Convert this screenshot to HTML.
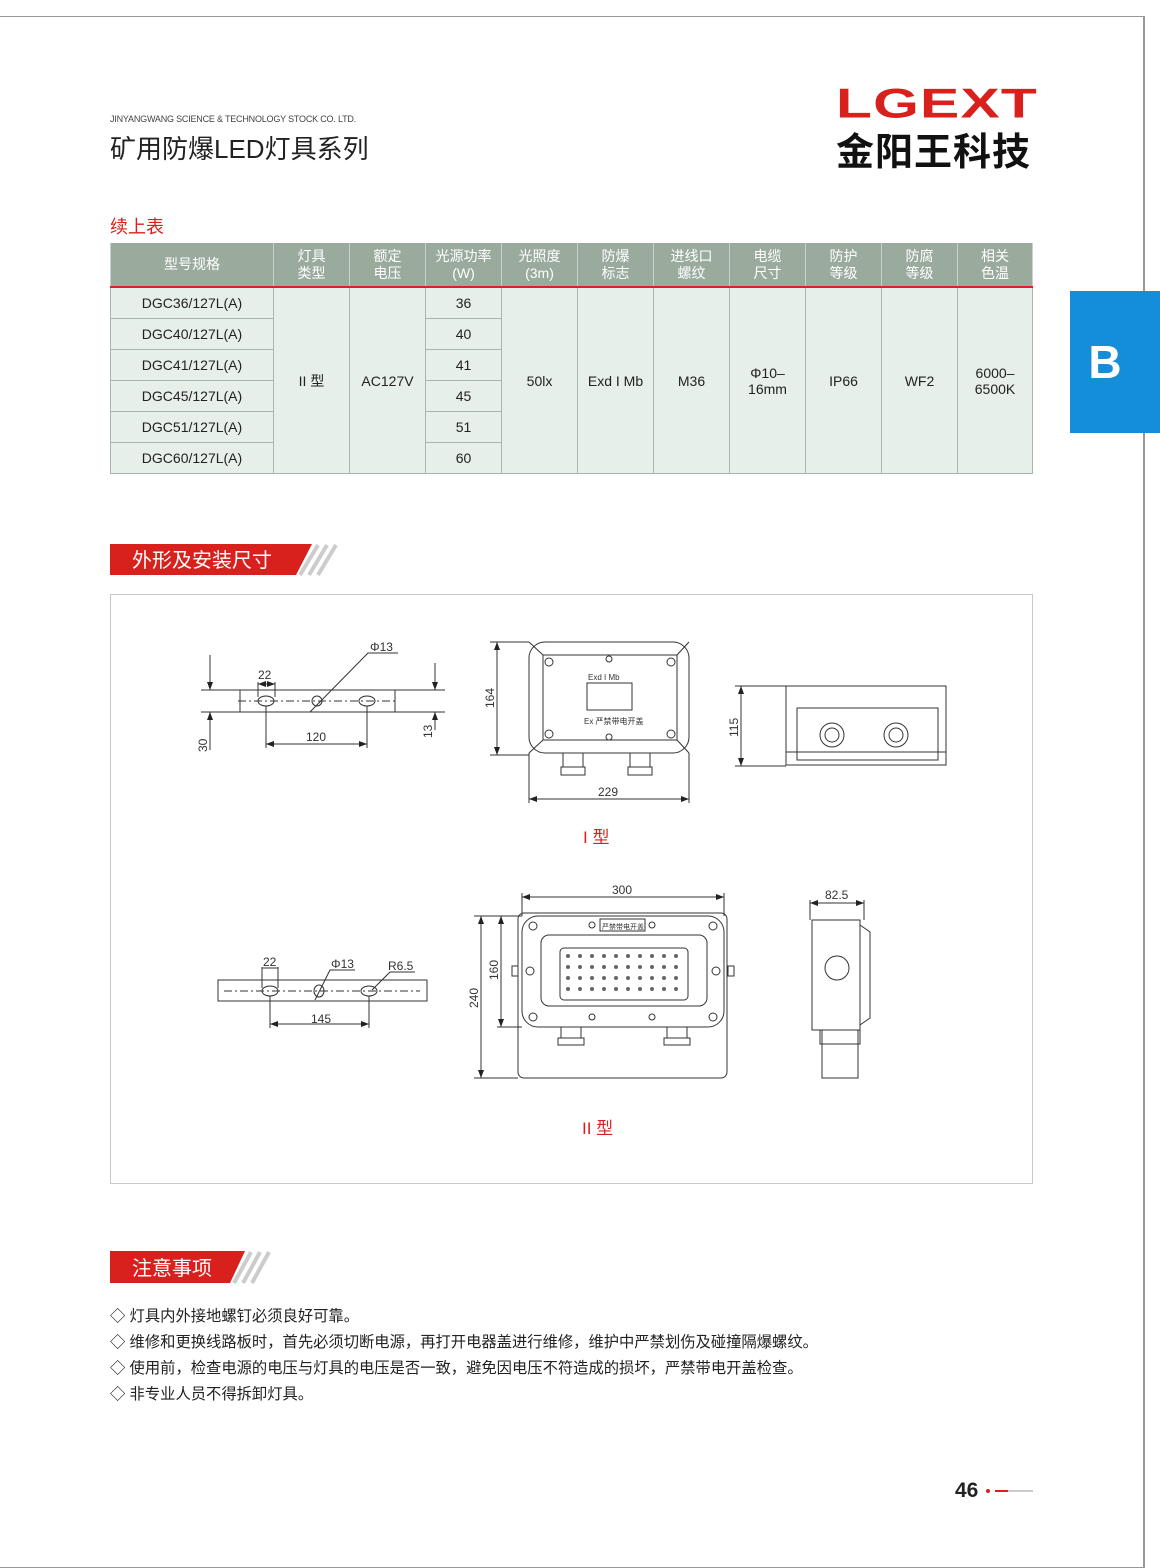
<!DOCTYPE html>
<html><head><meta charset="utf-8"><style>
body{margin:0;width:1160px;height:1568px;position:relative;background:#fff;font-family:"Liberation Sans","Noto Sans CJK SC",sans-serif;overflow:hidden}
.a{position:absolute}
table{border-collapse:collapse;position:absolute;left:110px;top:243px;table-layout:fixed}
td{border:1px solid #a9b5ae;text-align:center;color:#222;font-size:14px;padding:0;background:#e6efea}
th{background:#9aab9e;color:#fff;font-weight:normal;font-size:14px;line-height:17px;border-left:1px solid #c8d2cc;border-right:1px solid #c8d2cc;height:43px;border-bottom:2px solid #d22;padding:0}
td.m{height:30px}
.note{position:absolute;left:110px;font-size:15.3px;color:#222}
</style></head><body>
<div class="a" style="left:0;top:16px;width:1143px;height:1550px;border-top:1px solid #999;border-right:2px solid #999;border-bottom:1px solid #999"></div>
<div class="a" style="left:110px;top:114px;font-size:9px;color:#444;letter-spacing:-0.2px">JINYANGWANG SCIENCE &amp; TECHNOLOGY STOCK CO. LTD.</div>
<div class="a" style="left:110px;top:129px;font-size:26px;color:#222">矿用防爆LED灯具系列</div>
<div class="a" style="left:836px;top:80px;font-size:49px;font-weight:bold;color:#d8201c;letter-spacing:1px;transform:scale(1.2,0.85);transform-origin:top left">LGEXT</div>
<div class="a" style="left:836px;top:121px;font-size:38px;font-weight:bold;color:#111;letter-spacing:1px">金阳王科技</div>
<div class="a" style="left:110px;top:213px;font-size:18px;color:#d8201c">续上表</div>
<div class="a" style="left:1070px;top:291px;width:90px;height:142px;background:#148ed8;color:#fff;font-weight:bold;font-size:46px;text-align:center;line-height:142px;padding-right:20px;box-sizing:border-box">B</div>

<table>
<colgroup><col style="width:163px"><col style="width:76px"><col style="width:76px"><col style="width:76px"><col style="width:76px"><col style="width:76px"><col style="width:76px"><col style="width:76px"><col style="width:76px"><col style="width:76px"><col style="width:75px"></colgroup>
<tr><th>型号规格</th><th>灯具<br>类型</th><th>额定<br>电压</th><th>光源功率<br>(W)</th><th>光照度<br>(3m)</th><th>防爆<br>标志</th><th>进线口<br>螺纹</th><th>电缆<br>尺寸</th><th>防护<br>等级</th><th>防腐<br>等级</th><th>相关<br>色温</th></tr>
<tr><td class="m">DGC36/127L(A)</td><td rowspan="6">II 型</td><td rowspan="6">AC127V</td><td>36</td><td rowspan="6">50lx</td><td rowspan="6">Exd I Mb</td><td rowspan="6">M36</td><td rowspan="6">Φ10–<br>16mm</td><td rowspan="6">IP66</td><td rowspan="6">WF2</td><td rowspan="6">6000–<br>6500K</td></tr>
<tr><td class="m">DGC40/127L(A)</td><td>40</td></tr>
<tr><td class="m">DGC41/127L(A)</td><td>41</td></tr>
<tr><td class="m">DGC45/127L(A)</td><td>45</td></tr>
<tr><td class="m">DGC51/127L(A)</td><td>51</td></tr>
<tr><td class="m">DGC60/127L(A)</td><td>60</td></tr>
</table>

<svg class="a" style="left:0;top:0" width="1160" height="1568" viewBox="0 0 1160 1568">
<defs><marker id="ar" markerWidth="8" markerHeight="6" refX="8" refY="3" orient="auto-start-reverse"><path d="M0,0L8,3L0,6z" fill="#222"/></marker></defs>
<polygon points="110,544 312,544 296,575 110,575" fill="#d8201c"/>
<g stroke="#ccc" stroke-width="4"><line x1="318" y1="545" x2="300" y2="575"/><line x1="327" y1="545" x2="309" y2="575"/><line x1="336" y1="545" x2="318" y2="575"/></g>
<text x="132" y="567" font-size="20" fill="#fff" font-family="Liberation Sans,Noto Sans CJK SC,sans-serif">外形及安装尺寸</text>
<polygon points="110,1251 245,1251 230,1283 110,1283" fill="#d8201c"/>
<g stroke="#ccc" stroke-width="4"><line x1="251" y1="1252" x2="234" y2="1283"/><line x1="260" y1="1252" x2="243" y2="1283"/><line x1="269" y1="1252" x2="252" y2="1283"/></g>
<text x="132" y="1275" font-size="20" fill="#fff" font-family="Liberation Sans,Noto Sans CJK SC,sans-serif">注意事项</text>
<rect x="110.5" y="594.5" width="922" height="589" fill="none" stroke="#c8c8c8"/>

<g fill="none" stroke="#333" stroke-width="1" font-family="Liberation Sans,sans-serif" font-size="12">
<line x1="201" y1="690" x2="445" y2="690"/><line x1="201" y1="712" x2="445" y2="712"/>
<line x1="240" y1="690" x2="240" y2="712"/><line x1="395" y1="690" x2="395" y2="712"/>
<line x1="238" y1="701" x2="397" y2="701" stroke-dasharray="8,3,2,3"/>
<ellipse cx="266" cy="701" rx="8" ry="5"/><ellipse cx="317" cy="701" rx="5" ry="5"/><ellipse cx="367" cy="701" rx="8" ry="5"/>
<line x1="258" y1="682" x2="258" y2="697"/><line x1="275" y1="682" x2="275" y2="697"/>
<line x1="258" y1="684" x2="275" y2="684" marker-start="url(#ar)" marker-end="url(#ar)"/>
<line x1="266" y1="706" x2="266" y2="748"/><line x1="367" y1="706" x2="367" y2="748"/>
<line x1="266" y1="744" x2="367" y2="744" marker-start="url(#ar)" marker-end="url(#ar)"/>
<line x1="210" y1="655" x2="210" y2="690" marker-end="url(#ar)"/><line x1="210" y1="750" x2="210" y2="712" marker-end="url(#ar)"/>
<line x1="435" y1="663" x2="435" y2="690" marker-end="url(#ar)"/><line x1="435" y1="730" x2="435" y2="712" marker-end="url(#ar)"/>
<polyline points="398,653 368,653 310,712"/>
<rect x="529" y="642" width="160" height="111" rx="16"/>
<rect x="543" y="655" width="134" height="85"/>
<line x1="529" y1="642" x2="543" y2="655"/><line x1="689" y1="642" x2="677" y2="655"/><line x1="529" y1="753" x2="543" y2="740"/><line x1="689" y1="753" x2="677" y2="740"/>
<rect x="587" y="683" width="45" height="27"/>
<circle cx="549" cy="662" r="4"/><circle cx="671" cy="662" r="4"/><circle cx="549" cy="734" r="4"/><circle cx="671" cy="734" r="4"/><circle cx="609" cy="659" r="3"/><circle cx="609" cy="737" r="3"/>
<rect x="563" y="753" width="20" height="14"/><rect x="561" y="767" width="24" height="8"/>
<rect x="630" y="753" width="20" height="14"/><rect x="628" y="767" width="24" height="8"/>
<line x1="490" y1="642" x2="529" y2="642"/><line x1="490" y1="755" x2="529" y2="755"/>
<line x1="497" y1="642" x2="497" y2="755" marker-start="url(#ar)" marker-end="url(#ar)"/>
<line x1="529" y1="753" x2="529" y2="803"/><line x1="689" y1="753" x2="689" y2="803"/>
<line x1="529" y1="799" x2="689" y2="799" marker-start="url(#ar)" marker-end="url(#ar)"/>
<rect x="786" y="686" width="160" height="79"/>
<rect x="797" y="708" width="141" height="52"/>
<line x1="786" y1="752" x2="946" y2="752"/>
<circle cx="832" cy="735" r="12"/><circle cx="832" cy="735" r="7"/><circle cx="896" cy="735" r="12"/><circle cx="896" cy="735" r="7"/>
<line x1="735" y1="686" x2="786" y2="686"/><line x1="735" y1="766" x2="786" y2="766"/>
<line x1="741" y1="686" x2="741" y2="766" marker-start="url(#ar)" marker-end="url(#ar)"/>
<rect x="218" y="980" width="209" height="21"/>
<line x1="224" y1="991" x2="420" y2="991" stroke-dasharray="8,3,2,3"/>
<ellipse cx="270" cy="991" rx="8" ry="5"/><ellipse cx="319" cy="991" rx="5" ry="6"/><ellipse cx="369" cy="991" rx="8" ry="5"/>
<line x1="262" y1="967" x2="262" y2="988"/><line x1="278" y1="967" x2="278" y2="988"/><line x1="262" y1="968" x2="278" y2="968"/>
<line x1="270" y1="996" x2="270" y2="1028"/><line x1="369" y1="996" x2="369" y2="1028"/>
<line x1="270" y1="1024" x2="369" y2="1024" marker-start="url(#ar)" marker-end="url(#ar)"/>
<polyline points="355,970 330,970 315,1000"/><polyline points="415,972 390,972 372,990"/>
<rect x="518" y="913" width="209" height="165" rx="6"/>
<rect x="522" y="916" width="202" height="111" rx="16" fill="#fff"/>
<rect x="541" y="935" width="166" height="71" rx="8"/>
<rect x="560" y="948" width="128" height="52" rx="4"/>
<rect x="600" y="919" width="45" height="12"/>
<circle cx="533" cy="926" r="4"/><circle cx="713" cy="926" r="4"/><circle cx="533" cy="1017" r="4"/><circle cx="713" cy="1017" r="4"/><circle cx="530" cy="971" r="4"/><circle cx="716" cy="971" r="4"/>
<circle cx="592" cy="925" r="3"/><circle cx="652" cy="925" r="3"/><circle cx="592" cy="1017" r="3"/><circle cx="652" cy="1017" r="3"/>
<rect x="512" y="966" width="6" height="10"/><rect x="728" y="966" width="6" height="10"/>
<rect x="561" y="1027" width="20" height="11"/><rect x="558" y="1038" width="26" height="7"/>
<rect x="667" y="1027" width="20" height="11"/><rect x="664" y="1038" width="26" height="7"/>
<line x1="474" y1="916" x2="522" y2="916"/><line x1="474" y1="1078" x2="518" y2="1078"/><line x1="497" y1="1027" x2="522" y2="1027"/>
<line x1="481" y1="916" x2="481" y2="1078" marker-start="url(#ar)" marker-end="url(#ar)"/>
<line x1="501" y1="916" x2="501" y2="1027" marker-start="url(#ar)" marker-end="url(#ar)"/>
<line x1="522" y1="893" x2="522" y2="916"/><line x1="724" y1="893" x2="724" y2="916"/>
<line x1="522" y1="897" x2="724" y2="897" marker-start="url(#ar)" marker-end="url(#ar)"/>
<rect x="812" y="920" width="48" height="110"/>
<polyline points="860,925 870,932 870,1018 860,1025"/>
<circle cx="837" cy="968" r="12"/>
<rect x="822" y="1030" width="36" height="48"/>
<rect x="820" y="1030" width="40" height="14"/>
<line x1="810" y1="900" x2="810" y2="920"/><line x1="864" y1="900" x2="864" y2="920"/>
<line x1="810" y1="903" x2="864" y2="903" marker-start="url(#ar)" marker-end="url(#ar)"/>
</g>
<g fill="#333" font-family="Liberation Sans,Noto Sans CJK SC,sans-serif" font-size="12">
<text x="258" y="679">22</text><text x="370" y="651">Φ13</text><text x="306" y="741">120</text>
<text x="207" y="752" transform="rotate(-90 207 752)">30</text><text x="432" y="738" transform="rotate(-90 432 738)">13</text>
<text x="494" y="708" transform="rotate(-90 494 708)">164</text><text x="598" y="796">229</text>
<text x="738" y="737" transform="rotate(-90 738 737)">115</text>
<text x="588" y="680" font-size="8">Exd I Mb</text><text x="584" y="724" font-size="8">Ex 严禁带电开盖</text>
<text x="263" y="966">22</text><text x="331" y="968">Φ13</text><text x="388" y="970">R6.5</text><text x="311" y="1023">145</text>
<text x="612" y="894">300</text><text x="478" y="1008" transform="rotate(-90 478 1008)">240</text><text x="498" y="980" transform="rotate(-90 498 980)">160</text>
<text x="825" y="899">82.5</text>
<text x="602" y="929" font-size="7">严禁带电开盖</text>
<text x="583" y="843" font-size="17" fill="#d8201c">I 型</text>
<text x="582" y="1134" font-size="17" fill="#d8201c">II 型</text>
</g>
<g fill="#666">
<circle cx="568" cy="956" r="2"/><circle cx="580" cy="956" r="2"/><circle cx="592" cy="956" r="2"/><circle cx="604" cy="956" r="2"/><circle cx="616" cy="956" r="2"/><circle cx="628" cy="956" r="2"/><circle cx="640" cy="956" r="2"/><circle cx="652" cy="956" r="2"/><circle cx="664" cy="956" r="2"/><circle cx="676" cy="956" r="2"/>
<circle cx="568" cy="967" r="2"/><circle cx="580" cy="967" r="2"/><circle cx="592" cy="967" r="2"/><circle cx="604" cy="967" r="2"/><circle cx="616" cy="967" r="2"/><circle cx="628" cy="967" r="2"/><circle cx="640" cy="967" r="2"/><circle cx="652" cy="967" r="2"/><circle cx="664" cy="967" r="2"/><circle cx="676" cy="967" r="2"/>
<circle cx="568" cy="978" r="2"/><circle cx="580" cy="978" r="2"/><circle cx="592" cy="978" r="2"/><circle cx="604" cy="978" r="2"/><circle cx="616" cy="978" r="2"/><circle cx="628" cy="978" r="2"/><circle cx="640" cy="978" r="2"/><circle cx="652" cy="978" r="2"/><circle cx="664" cy="978" r="2"/><circle cx="676" cy="978" r="2"/>
<circle cx="568" cy="989" r="2"/><circle cx="580" cy="989" r="2"/><circle cx="592" cy="989" r="2"/><circle cx="604" cy="989" r="2"/><circle cx="616" cy="989" r="2"/><circle cx="628" cy="989" r="2"/><circle cx="640" cy="989" r="2"/><circle cx="652" cy="989" r="2"/><circle cx="664" cy="989" r="2"/><circle cx="676" cy="989" r="2"/>
</g>
<circle cx="988" cy="1491" r="2" fill="#d8201c"/>
<line x1="995" y1="1491" x2="1008" y2="1491" stroke="#d8201c" stroke-width="2"/>
<line x1="1008" y1="1491" x2="1033" y2="1491" stroke="#ccc" stroke-width="2"/>
</svg>
<div class="a" style="left:955px;top:1479px;font-size:21px;font-weight:bold;color:#222">46</div>

<div class="note" style="top:1304px">◇ 灯具内外接地螺钉必须良好可靠。</div>
<div class="note" style="top:1330px">◇ 维修和更换线路板时，首先必须切断电源，再打开电器盖进行维修，维护中严禁划伤及碰撞隔爆螺纹。</div>
<div class="note" style="top:1356px">◇ 使用前，检查电源的电压与灯具的电压是否一致，避免因电压不符造成的损坏，严禁带电开盖检查。</div>
<div class="note" style="top:1382px">◇ 非专业人员不得拆卸灯具。</div>
</body></html>
